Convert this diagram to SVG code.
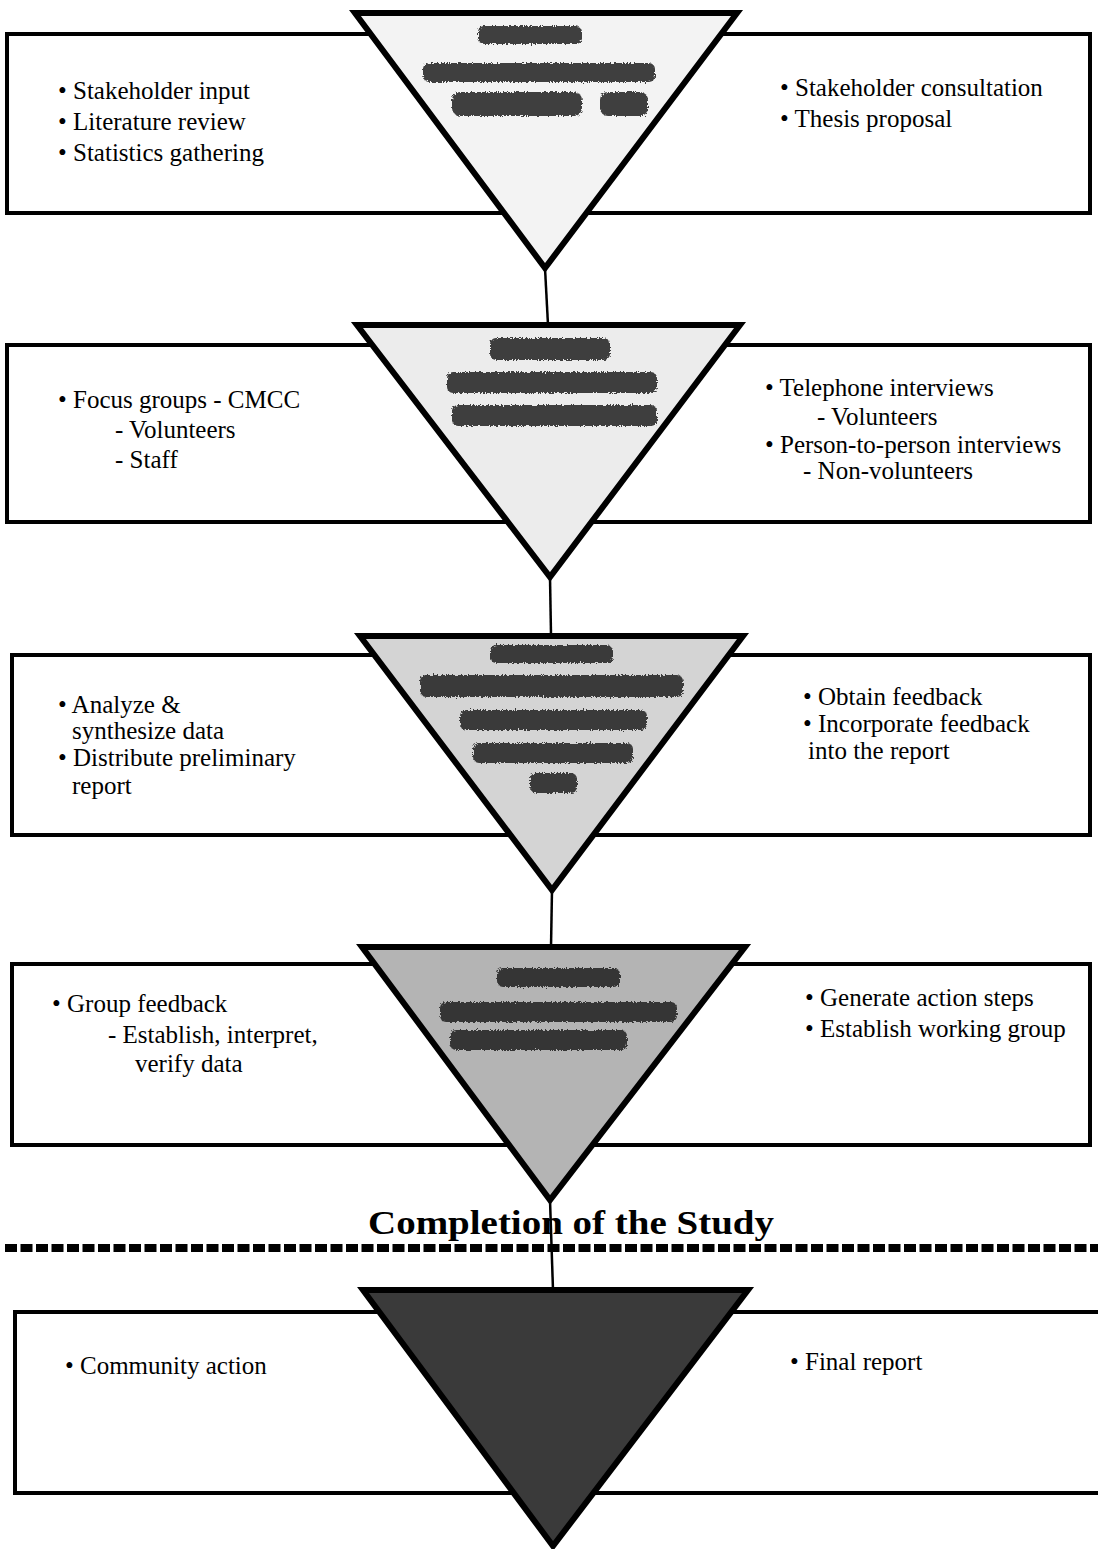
<svg xmlns="http://www.w3.org/2000/svg" width="1098" height="1549" viewBox="0 0 1098 1549">
<style>
.box{fill:#fff;stroke:#000;stroke-width:4}
.tri{stroke:#000;stroke-width:6;stroke-linejoin:miter}
.t{font-family:"Liberation Serif","Times New Roman",serif;font-size:25px;fill:#000}
.blot{fill:#222;opacity:0.85}
.conn{stroke:#000;stroke-width:2.5;fill:none}
</style>
<defs>
<filter id="rough" x="-5%" y="-20%" width="110%" height="140%">
<feTurbulence type="fractalNoise" baseFrequency="0.6" numOctaves="2" seed="4" result="n"/>
<feDisplacementMap in="SourceGraphic" in2="n" scale="5"/>
</filter>
</defs>
<rect width="1098" height="1549" fill="#fff"/>

<g id="connectors">
<line class="conn" x1="545" y1="268" x2="548" y2="325"/>
<line class="conn" x1="550" y1="577" x2="551" y2="635"/>
<line class="conn" x1="552" y1="890" x2="551" y2="947"/>
<line class="conn" x1="550" y1="1200" x2="553" y2="1290"/>
</g>

<g id="phase1">
<rect class="box" x="7" y="34" width="1083" height="179"/>
<polygon class="tri" fill="#f3f3f3" points="355,13 737,13 545,268"/>
<g filter="url(#rough)">
<rect class="blot" x="478" y="26" width="104" height="18" rx="6"/>
<rect class="blot" x="423" y="63" width="232" height="19" rx="6"/>
<rect class="blot" x="452" y="92" width="130" height="24" rx="8"/>
<rect class="blot" x="600" y="92" width="48" height="24" rx="8"/>
</g>
<text class="t" x="58" y="99">• Stakeholder input</text>
<text class="t" x="58" y="130">• Literature review</text>
<text class="t" x="58" y="161">• Statistics gathering</text>
<text class="t" x="780" y="96">• Stakeholder consultation</text>
<text class="t" x="780" y="127">• Thesis proposal</text>
</g>

<g id="phase2">
<rect class="box" x="7" y="345" width="1083" height="177"/>
<polygon class="tri" fill="#ececec" points="357,325 740,325 550,577"/>
<g filter="url(#rough)">
<rect class="blot" x="490" y="338" width="120" height="22" rx="6"/>
<rect class="blot" x="447" y="372" width="210" height="21" rx="6"/>
<rect class="blot" x="452" y="405" width="205" height="21" rx="6"/>
</g>
<text class="t" x="58" y="408">• Focus groups - CMCC</text>
<text class="t" x="115" y="438">- Volunteers</text>
<text class="t" x="115" y="468">- Staff</text>
<text class="t" x="765" y="396">• Telephone interviews</text>
<text class="t" x="817" y="425">- Volunteers</text>
<text class="t" x="765" y="453">• Person-to-person interviews</text>
<text class="t" x="803" y="479">- Non-volunteers</text>
</g>

<g id="phase3">
<rect class="box" x="12" y="655" width="1078" height="180"/>
<polygon class="tri" fill="#d4d4d4" points="360,636 743,636 552,890"/>
<g filter="url(#rough)">
<rect class="blot" x="490" y="645" width="123" height="18" rx="6"/>
<rect class="blot" x="420" y="675" width="263" height="22" rx="6"/>
<rect class="blot" x="460" y="710" width="187" height="20" rx="6"/>
<rect class="blot" x="473" y="743" width="160" height="20" rx="6"/>
<rect class="blot" x="530" y="773" width="47" height="20" rx="6"/>
</g>
<text class="t" x="58" y="713">• Analyze &amp;</text>
<text class="t" x="72" y="739">synthesize data</text>
<text class="t" x="58" y="766">• Distribute preliminary</text>
<text class="t" x="72" y="794">report</text>
<text class="t" x="803" y="705">• Obtain feedback</text>
<text class="t" x="803" y="732">• Incorporate feedback</text>
<text class="t" x="808" y="759">into the report</text>
</g>

<g id="phase4">
<rect class="box" x="12" y="964" width="1078" height="181"/>
<polygon class="tri" fill="#b4b4b4" points="362,947 745,947 550,1200"/>
<g filter="url(#rough)">
<rect class="blot" x="497" y="968" width="123" height="19" rx="6"/>
<rect class="blot" x="440" y="1002" width="237" height="20" rx="6"/>
<rect class="blot" x="450" y="1030" width="177" height="20" rx="6"/>
</g>
<text class="t" x="52" y="1012">• Group feedback</text>
<text class="t" x="108" y="1043">- Establish, interpret,</text>
<text class="t" x="135" y="1072">verify data</text>
<text class="t" x="805" y="1006">• Generate action steps</text>
<text class="t" x="805" y="1037">• Establish working group</text>
</g>

<g id="completion">
<text x="368" y="1234" textLength="406" lengthAdjust="spacingAndGlyphs" style="font-family:'Liberation Serif','Times New Roman',serif;font-size:34px;font-weight:bold;fill:#000">Completion of the Study</text>
<line x1="5" y1="1248" x2="1098" y2="1248" stroke="#000" stroke-width="8" stroke-dasharray="12 3.5"/>
</g>

<g id="phase5">
<rect class="box" x="15" y="1312" width="1085" height="181"/>
<polygon class="tri" fill="#3a3a3a" points="363,1290 748,1290 553,1546"/>
<text class="t" x="65" y="1374">• Community action</text>
<text class="t" x="790" y="1370">• Final report</text>
</g>
</svg>
